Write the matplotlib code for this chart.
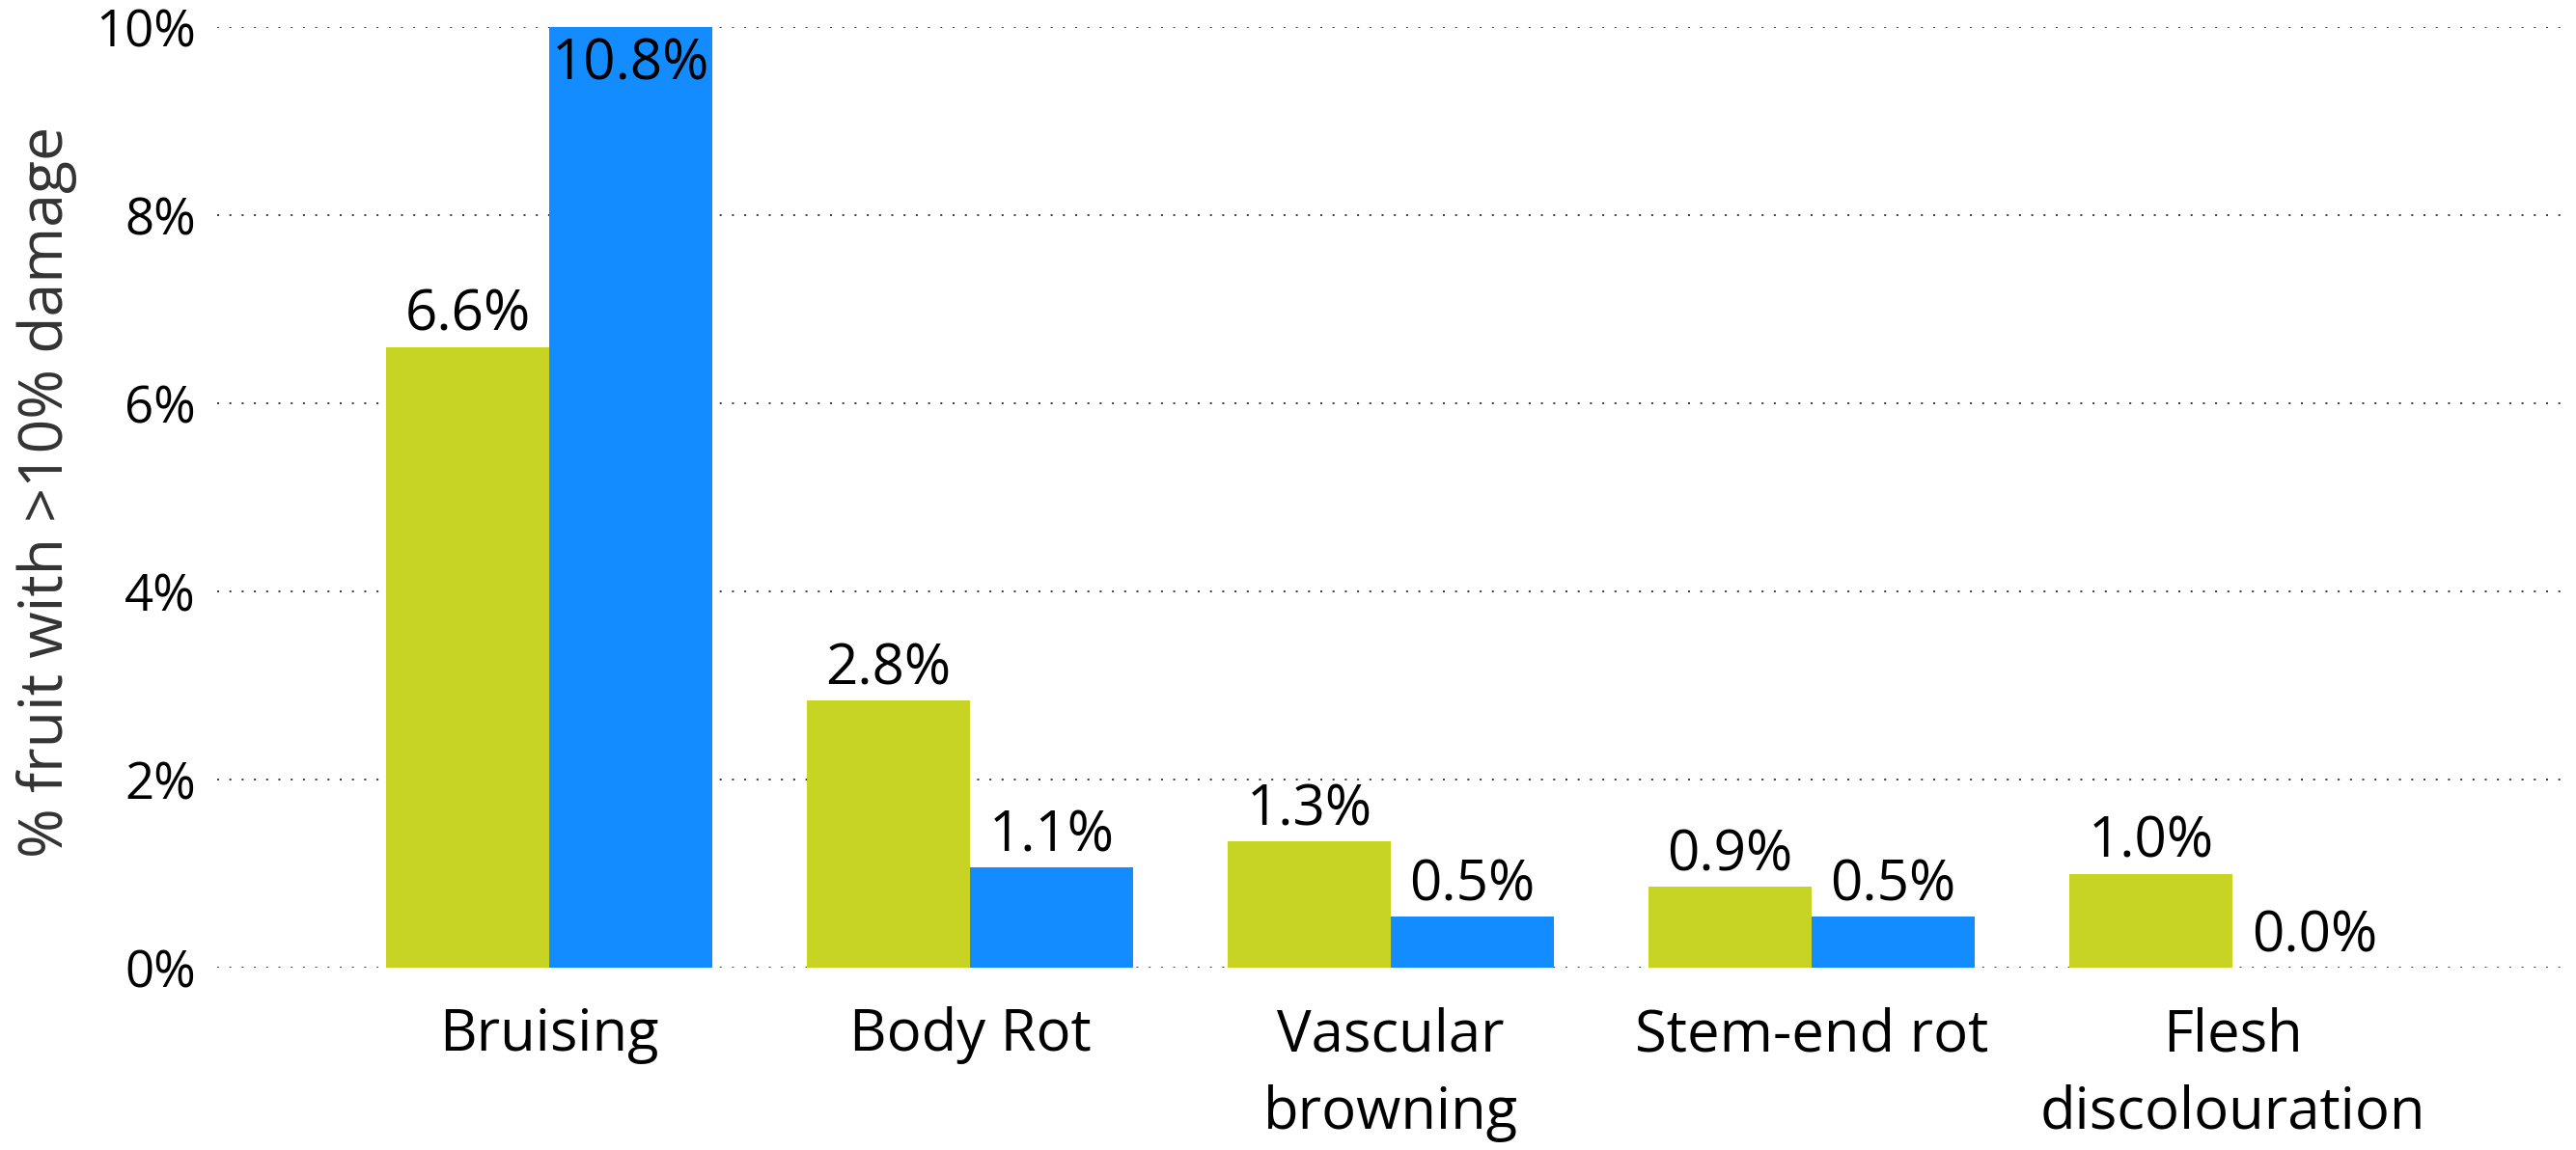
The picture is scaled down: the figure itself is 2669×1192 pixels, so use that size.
import matplotlib
matplotlib.use("Agg")
import matplotlib.pyplot as plt
import numpy as np

categories = ["Bruising", "Body Rot", "Vascular\nbrowning", "Stem-end rot", "Flesh\ndiscolouration"]
series_a = [6.6, 2.84, 1.34, 0.86, 1.0]
series_b = [10.8, 1.07, 0.54, 0.54, 0.0]
yticks = [0, 2, 4, 6, 8, 10]
ytick_labels = ["0%", "2%", "4%", "6%", "8%", "10%"]
ylabel = "% fruit with >10% damage"

GREEN = "#C8D423"
BLUE = "#128CFF"
FONT = ["Open Sans", "DejaVu Sans"]

plt.rcParams["font.family"] = FONT

W, H, DPI = 2669, 1192, 100
fig = plt.figure(figsize=(W / DPI, H / DPI), dpi=DPI)
ax = fig.add_axes([225 / W, 1 - 1003 / H, (2662 - 225) / W, (1003 - 28) / H])

x = np.arange(len(categories))
bw = 0.388
bars_a = ax.bar(x - bw / 2, series_a, width=bw, color=GREEN, zorder=3)
bars_b = ax.bar(x + bw / 2, series_b, width=bw, color=BLUE, zorder=3)

ax.set_ylim(0, 10)
ax.set_xlim(-0.789, 4.80)
ax.set_yticks(yticks)
ax.set_yticklabels(ytick_labels)
ax.set_xticks(x)
ax.set_xticklabels(categories, linespacing=1.45)
ax.tick_params(axis="y", length=0, pad=16, labelsize=38, labelcolor="black")
ax.tick_params(axis="x", length=0, pad=29, labelsize=43, labelcolor="black")
for s in ax.spines.values():
    s.set_visible(False)
ax.grid(axis="y", color="#404040", linewidth=1.44, linestyle=(0, (1, 5.35)), zorder=0)
ax.set_axisbelow(True)

ymax = ax.get_ylim()[1]
for bars, vals in ((bars_a, series_a), (bars_b, series_b)):
    for b, v in zip(bars, vals):
        cx = b.get_x() + b.get_width() / 2
        label = f"{v:.1f}%"
        if v > ymax:
            ax.annotate(label, (cx, ymax), xytext=(0, -7), textcoords="offset points",
                        ha="center", va="top", fontsize=42, color="black", zorder=4)
        else:
            ax.annotate(label, (cx, v), xytext=(0, 12), textcoords="offset points",
                        ha="center", va="baseline", fontsize=42, color="black", zorder=4)

fig.text(65 / W, 1 - 510 / H, ylabel, rotation=90, rotation_mode="anchor",
         ha="center", va="baseline", fontsize=45, color="#333333")

fig.savefig("out.png", dpi=DPI)
